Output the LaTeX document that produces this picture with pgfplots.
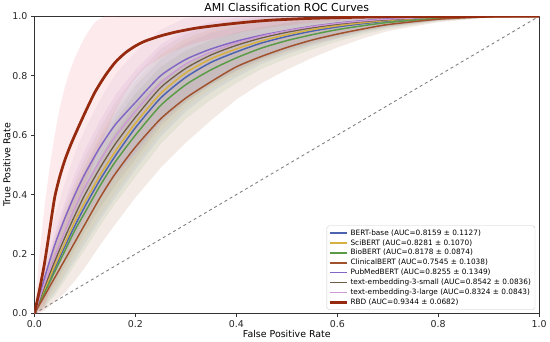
\documentclass[border=0pt]{standalone}
\usepackage{fontspec}
\setmainfont{DejaVu Sans}
\usepackage{pgfplots}
\usepackage{pgfplotstable}
\pgfplotsset{compat=1.18}
\usepgfplotslibrary{fillbetween}
\definecolor{cbert}{HTML}{4C63B0}
\definecolor{csci}{HTML}{D6B040}
\definecolor{cbio}{HTML}{5A9B48}
\definecolor{cclin}{HTML}{A0522D}
\definecolor{cpub}{HTML}{8466C4}
\definecolor{cts}{HTML}{6E5C44}
\definecolor{ctl}{HTML}{CC99D6}
\definecolor{crbd}{HTML}{962A0E}
\definecolor{cband}{HTML}{F06070}
\pgfplotstableread{
x    clinM clinU clinL bioM bioU bioL bertM bertU bertL sciM sciU sciL tsM tsU tsL tlM tlU tlL pubM pubU pubL
0    0     0     0     0    0    0    0     0     0     0    0    0    0   0   0   0   0   0   0    0    0
0.02 0.06  0.11  0.01  0.07 0.12 0.02 0.075 0.125 0.025 0.08 0.13 0.03 0.09 0.14 0.04 0.10 0.15 0.05 0.12 0.18 0.06
0.04 0.12  0.20  0.04  0.14 0.22 0.06 0.15  0.23  0.07  0.16 0.24 0.08 0.175 0.255 0.095 0.19 0.27 0.11 0.23 0.325 0.135
0.06 0.18  0.28  0.07  0.21 0.31 0.11 0.225 0.325 0.125 0.235 0.335 0.135 0.255 0.355 0.155 0.275 0.375 0.175 0.32 0.44 0.20
0.08 0.24  0.355 0.11  0.28 0.395 0.165 0.295 0.41 0.18 0.31 0.425 0.195 0.33 0.445 0.215 0.355 0.47 0.24 0.40 0.54 0.26
0.10 0.30  0.425 0.155 0.34 0.465 0.215 0.36 0.485 0.235 0.375 0.50 0.25 0.40 0.525 0.275 0.425 0.55 0.30 0.47 0.62 0.32
0.13 0.39  0.525 0.23  0.43 0.565 0.295 0.45 0.585 0.315 0.465 0.60 0.33 0.49 0.625 0.355 0.515 0.65 0.38 0.56 0.72 0.40
0.16 0.47  0.61  0.30  0.51 0.65 0.37 0.53 0.67 0.39 0.545 0.685 0.405 0.57 0.71 0.43 0.595 0.735 0.455 0.635 0.805 0.465
0.20 0.56  0.70  0.39  0.60 0.74 0.46 0.625 0.765 0.485 0.64 0.78 0.50 0.66 0.80 0.52 0.68 0.82 0.54 0.71 0.88 0.54
0.25 0.655 0.785 0.49  0.70 0.83 0.57 0.725 0.855 0.595 0.74 0.87 0.61 0.76 0.89 0.63 0.775 0.905 0.645 0.80 0.955 0.645
0.30 0.725 0.84  0.575 0.77 0.885 0.655 0.795 0.91 0.68 0.81 0.925 0.695 0.825 0.94 0.71 0.84 0.955 0.725 0.855 0.995 0.715
0.35 0.78  0.88  0.65  0.82 0.92 0.72 0.845 0.945 0.745 0.857 0.957 0.757 0.87 0.97 0.77 0.88 0.98 0.78 0.89 1 0.77
0.40 0.83  0.915 0.72  0.86 0.945 0.775 0.88 0.965 0.795 0.89 0.975 0.805 0.902 0.987 0.817 0.91 0.995 0.825 0.916 1 0.816
0.45 0.865 0.935 0.775 0.893 0.963 0.823 0.91 0.98 0.84 0.917 0.987 0.847 0.927 0.997 0.857 0.933 1 0.863 0.936 1 0.851
0.50 0.895 0.955 0.82  0.918 0.978 0.858 0.932 0.992 0.872 0.938 0.998 0.878 0.946 1 0.886 0.951 1 0.891 0.952 1 0.882
0.55 0.92  0.97  0.86  0.938 0.988 0.888 0.95 1 0.90 0.955 1 0.905 0.961 1 0.911 0.965 1 0.915 0.966 1 0.906
0.60 0.94  0.98  0.895 0.955 0.995 0.915 0.964 1 0.924 0.968 1 0.928 0.973 1 0.933 0.976 1 0.936 0.977 1 0.927
0.65 0.957 0.987 0.925 0.968 0.998 0.938 0.975 1 0.945 0.978 1 0.948 0.982 1 0.952 0.984 1 0.954 0.985 1 0.95
0.70 0.972 0.994 0.95  0.979 1 0.957 0.984 1 0.962 0.986 1 0.964 0.988 1 0.966 0.99 1 0.968 0.991 1 0.966
0.80 0.99  1     0.98  0.993 1 0.983 0.995 1 0.985 0.996 1 0.986 0.997 1 0.987 0.997 1 0.987 0.998 1 0.986
0.90 0.998 1     0.995 0.999 1 0.996 0.999 1 0.996 0.999 1 0.996 1 1 0.997 1 1 0.997 1 1 0.996
1.00 1     1     1     1    1 1     1 1 1 1 1 1 1 1 1 1 1 1 1 1 1
}\middata
\pgfplotstableread{
x    m     u    l
0    0     0    0
0.01 0.08  0.20 0
0.02 0.17  0.36 0.02
0.03 0.28  0.49 0.08
0.04 0.39  0.60 0.16
0.05 0.46  0.69 0.23
0.06 0.515 0.76 0.28
0.07 0.56  0.815 0.32
0.08 0.60  0.86 0.36
0.10 0.675 0.93 0.43
0.12 0.745 0.98 0.52
0.14 0.80  1    0.60
0.16 0.845 1    0.68
0.18 0.877 1    0.74
0.20 0.90  1    0.79
0.22 0.917 1    0.825
0.25 0.934 1    0.86
0.28 0.947 1    0.885
0.32 0.96  1    0.91
0.37 0.971 1    0.93
0.42 0.98  1    0.95
0.47 0.987 1    0.963
0.55 0.993 1    0.978
0.65 0.997 1    0.99
0.75 0.999 1    0.997
1.00 1     1    1
}\rbddata
\begin{document}
\begin{tikzpicture}[x=1bp,y=1bp]
\begin{axis}[
  scale only axis, width=506bp, height=298bp,
  xmin=0, xmax=1, ymin=0, ymax=1,
  xtick={0,0.2,0.4,0.6,0.8,1.0}, ytick={0,0.2,0.4,0.6,0.8,1.0},
  xticklabel style={/pgf/number format/.cd,fixed,fixed zerofill,precision=1},
  yticklabel style={/pgf/number format/.cd,fixed,fixed zerofill,precision=1},
  /pgf/number format/assume math mode=true,
  tick label style={font=\fontsize{9.5}{11}\selectfont, text=black!85},
  label style={font=\fontsize{9.5}{11}\selectfont},
  title style={font=\fontsize{11}{13}\selectfont, yshift=-5bp},
  title={AMI Classification ROC Curves},
  xlabel={False Positive Rate}, ylabel={True Positive Rate},
  xlabel style={yshift=4bp}, ylabel style={yshift=-5bp},
  tick align=outside, xtick pos=bottom, ytick pos=left,
  major tick length=3.5bp,
  axis line style={black!80, line width=0.8pt},
  every tick/.style={black!80, line width=0.8pt},
  legend style={at={(0.992,0.012)}, anchor=south east,
    font=\fontsize{7.4}{8.7}\selectfont, draw=black!20, rounded corners=2pt,
    row sep=-1.2bp, inner sep=2bp, fill=white, fill opacity=0.8, text opacity=1, draw opacity=1},
  legend cell align=left,
  legend image code/.code={\draw[#1] (0bp,0bp) -- (17bp,0bp);},
  every axis plot/.append style={no marks},
]
% bands
\addplot[draw=none, name path=uclin, forget plot] table[x=x, y=clinU] {\middata};
\addplot[draw=none, name path=lclin, forget plot] table[x=x, y=clinL] {\middata};
\addplot[fill=cclin, fill opacity=0.12, draw=none, forget plot] fill between[of=uclin and lclin];
\addplot[draw=none, name path=ubio, forget plot] table[x=x, y=bioU] {\middata};
\addplot[draw=none, name path=lbio, forget plot] table[x=x, y=bioL] {\middata};
\addplot[fill=cbio, fill opacity=0.10, draw=none, forget plot] fill between[of=ubio and lbio];
\addplot[draw=none, name path=ubert, forget plot] table[x=x, y=bertU] {\middata};
\addplot[draw=none, name path=lbert, forget plot] table[x=x, y=bertL] {\middata};
\addplot[fill=cbert, fill opacity=0.08, draw=none, forget plot] fill between[of=ubert and lbert];
\addplot[draw=none, name path=usci, forget plot] table[x=x, y=sciU] {\middata};
\addplot[draw=none, name path=lsci, forget plot] table[x=x, y=sciL] {\middata};
\addplot[fill=csci, fill opacity=0.10, draw=none, forget plot] fill between[of=usci and lsci];
\addplot[draw=none, name path=uts, forget plot] table[x=x, y=tsU] {\middata};
\addplot[draw=none, name path=lts, forget plot] table[x=x, y=tsL] {\middata};
\addplot[fill=cts, fill opacity=0.08, draw=none, forget plot] fill between[of=uts and lts];
\addplot[draw=none, name path=utl, forget plot] table[x=x, y=tlU] {\middata};
\addplot[draw=none, name path=ltl, forget plot] table[x=x, y=tlL] {\middata};
\addplot[fill=ctl, fill opacity=0.14, draw=none, forget plot] fill between[of=utl and ltl];
\addplot[draw=none, name path=upub, forget plot] table[x=x, y=pubU] {\middata};
\addplot[draw=none, name path=lpub, forget plot] table[x=x, y=pubL] {\middata};
\addplot[fill=cpub, fill opacity=0.08, draw=none, forget plot] fill between[of=upub and lpub];
\addplot[draw=none, name path=urbd, forget plot, smooth, tension=0.3] table[x=x, y=u] {\rbddata};
\addplot[draw=none, name path=lrbd, forget plot, smooth, tension=0.3] table[x=x, y=l] {\rbddata};
\addplot[fill=cband, fill opacity=0.13, draw=none, forget plot] fill between[of=urbd and lrbd];
% diagonal
\addplot[gray, dashed, line width=0.9pt, forget plot] coordinates {(0,0) (1,1)};
% mean curves
\addplot[cbert, line width=1.5pt, smooth, tension=0.4] table[x=x, y=bertM] {\middata};
\addlegendentry{BERT-base (AUC=0.8159 ± 0.1127)}
\addplot[csci, line width=1.5pt, smooth, tension=0.4] table[x=x, y=sciM] {\middata};
\addlegendentry{SciBERT (AUC=0.8281 ± 0.1070)}
\addplot[cbio, line width=1.5pt, smooth, tension=0.4] table[x=x, y=bioM] {\middata};
\addlegendentry{BioBERT (AUC=0.8178 ± 0.0874)}
\addplot[cclin, line width=1.5pt, smooth, tension=0.4] table[x=x, y=clinM] {\middata};
\addlegendentry{ClinicalBERT (AUC=0.7545 ± 0.1038)}
\addplot[cpub, line width=1.5pt, smooth, tension=0.4] table[x=x, y=pubM] {\middata};
\addlegendentry{PubMedBERT (AUC=0.8255 ± 0.1349)}
\addplot[cts, line width=1.3pt, smooth, tension=0.4] table[x=x, y=tsM] {\middata};
\addlegendentry{text-embedding-3-small (AUC=0.8542 ± 0.0836)}
\addplot[ctl, line width=1.3pt, smooth, tension=0.4] table[x=x, y=tlM] {\middata};
\addlegendentry{text-embedding-3-large (AUC=0.8324 ± 0.0843)}
\addplot[crbd, line width=2.8pt, smooth, tension=0.4] table[x=x, y=m] {\rbddata};
\addlegendentry{RBD (AUC=0.9344 ± 0.0682)}
\end{axis}
\end{tikzpicture}
\end{document}
